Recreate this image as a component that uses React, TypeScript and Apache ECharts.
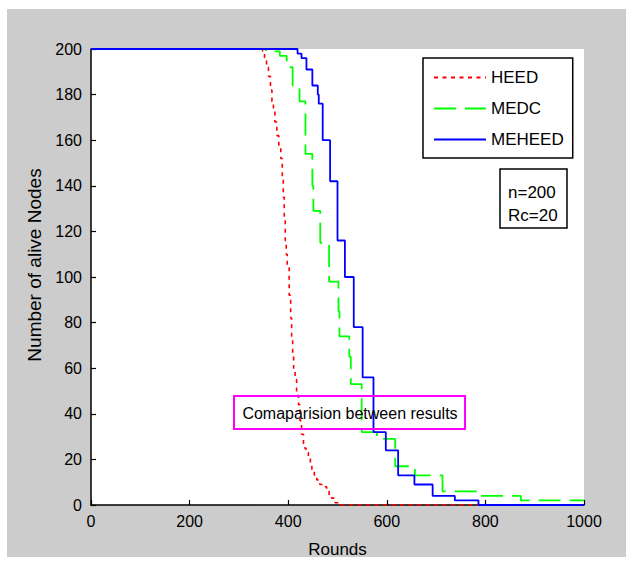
import React, { useEffect, useRef } from "react";
import * as echarts from "echarts";

const FONT = "Liberation Sans, Arial, Helvetica, sans-serif";

const xTicks = [0, 200, 400, 600, 800, 1000];
const yTicks = [0, 20, 40, 60, 80, 100, 120, 140, 160, 180, 200];

const heedRounds = [0, 348, 352, 356, 360, 364, 367, 370, 373, 377, 381, 385, 388, 390, 392, 394, 396, 398, 402, 405, 407, 409, 411, 414, 417, 421, 424, 427, 431, 436, 441, 445, 448, 453, 458, 464, 471, 478, 483, 488, 495, 502, 1000];
const heedAlive = [200, 199, 196, 192, 188, 182, 177, 173, 168, 162, 157, 152, 143, 135, 126, 116, 110, 104, 92, 82, 74, 66, 60, 55, 48, 44, 37, 31, 25, 23, 21, 18, 15, 13, 11, 9, 8, 6, 4, 3, 1, 0, 0];

const medcRounds = [0, 355, 383, 397, 409, 423, 435, 449, 451, 465, 483, 502, 504, 524, 527, 549, 580, 617, 657, 713, 790, 872, 1000];
const medcAlive = [200, 199, 197, 192, 184, 177, 154, 140, 129, 115, 98, 85, 74, 65, 53, 32, 29, 17, 13, 6, 4, 2, 2];

const meheedRounds = [0, 419, 427, 437, 449, 460, 462, 470, 485, 500, 515, 533, 551, 573, 598, 623, 656, 693, 738, 786, 1000];
const meheedAlive = [200, 198, 196, 191, 184, 180, 176, 160, 142, 116, 100, 78, 56, 32, 24, 13, 9, 4, 2, 0, 0];

const seriesNames = ["HEED", "MEDC", "MEHEED"];
const annotationText = "Comaparision between results";
const paramLines = ["n=200", "Rc=20"];

const pairs = (xs: number[], ys: number[]) => xs.map((x, i) => [x, ys[i]]);

export default function App() {
  const ref = useRef<HTMLDivElement>(null);
  useEffect(() => {
    if (!ref.current) return;
    const chart = echarts.init(ref.current, undefined, { renderer: "svg" });
    const axisCommon = {
      axisLine: { show: true, lineStyle: { color: "#000", width: 1.5 } },
      axisTick: { show: true, inside: true, length: 5, lineStyle: { color: "#000", width: 1.2 } },
      splitLine: { show: false },
    };
    chart.setOption({
      animation: false,
      backgroundColor: "transparent",
      grid: {
        left: 91,
        top: 49,
        width: 493,
        height: 456,
        show: true,
        backgroundColor: "#ffffff",
        borderWidth: 0,
        containLabel: false,
        outerBoundsMode: "none",
      },
      xAxis: {
        type: "value",
        min: xTicks[0],
        max: xTicks[xTicks.length - 1],
        interval: 200,
        ...axisCommon,
        axisLabel: {
          color: "#000",
          fontSize: 16,
          fontFamily: FONT,
          margin: 8,
          formatter: (v: number) => String(v),
        },
        name: "Rounds",
        nameLocation: "middle",
        nameGap: 36,
        nameTextStyle: { color: "#000", fontSize: 17, fontFamily: FONT },
      },
      yAxis: {
        type: "value",
        min: yTicks[0],
        max: yTicks[yTicks.length - 1],
        interval: 20,
        ...axisCommon,
        axisLabel: {
          color: "#000",
          fontSize: 16,
          fontFamily: FONT,
          margin: 9,
          formatter: (v: number) => String(v),
        },
        name: "Number of alive Nodes",
        nameLocation: "middle",
        nameGap: 40,
        nameTextStyle: { color: "#000", fontSize: 19, fontFamily: FONT, padding: [0, 0, 0, 24] },
      },
      legend: {
        data: seriesNames,
        orient: "vertical",
        left: 423,
        top: 58,
        itemWidth: 52,
        itemHeight: 16,
        itemGap: 14,
        padding: [11, 9, 10, 10],
        backgroundColor: "#ffffff",
        borderColor: "#000",
        borderWidth: 1.5,
        itemStyle: { opacity: 0 },
        textStyle: { color: "#000", fontSize: 17, fontFamily: FONT },
      },
      series: [
        {
          name: seriesNames[0],
          type: "line",
          step: "end",
          data: pairs(heedRounds, heedAlive),
          symbol: "none",
          showSymbol: false,
          clip: false,
          color: "#ff0000",
          lineStyle: { color: "#ff0000", width: 1.6, type: [4, 4.5] },
        },
        {
          name: seriesNames[1],
          type: "line",
          step: "end",
          data: pairs(medcRounds, medcAlive),
          symbol: "none",
          showSymbol: false,
          clip: false,
          color: "#00ff00",
          lineStyle: { color: "#00ff00", width: 1.8, type: [22, 9] },
        },
        {
          name: seriesNames[2],
          type: "line",
          step: "end",
          data: pairs(meheedRounds, meheedAlive),
          symbol: "none",
          showSymbol: false,
          clip: false,
          color: "#0000ff",
          lineStyle: { color: "#0000ff", width: 1.8, type: "solid" },
        },
      ],
      graphic: [
        {
          type: "rect",
          z: 100,
          shape: { x: 234, y: 396, width: 231, height: 33 },
          style: { fill: "none", stroke: "#ff00ff", lineWidth: 2 },
        },
        {
          type: "text",
          z: 100,
          x: 350,
          y: 413,
          style: {
            text: annotationText,
            fill: "#000",
            fontSize: 16,
            fontFamily: FONT,
            align: "center",
            verticalAlign: "middle",
            textAlign: "center",
            textVerticalAlign: "middle",
          },
        },
        {
          type: "rect",
          z: 100,
          shape: { x: 500, y: 169, width: 67, height: 59 },
          style: { fill: "#ffffff", stroke: "#000", lineWidth: 1.5 },
        },
        {
          type: "text",
          z: 101,
          x: 508,
          y: 192,
          style: {
            text: paramLines[0],
            fill: "#000",
            fontSize: 17,
            fontFamily: FONT,
            align: "left",
            verticalAlign: "middle",
            textAlign: "left",
            textVerticalAlign: "middle",
          },
        },
        {
          type: "text",
          z: 101,
          x: 508,
          y: 215,
          style: {
            text: paramLines[1],
            fill: "#000",
            fontSize: 17,
            fontFamily: FONT,
            align: "left",
            verticalAlign: "middle",
            textAlign: "left",
            textVerticalAlign: "middle",
          },
        },
      ],
    });
    return () => chart.dispose();
  }, []);

  return (
    <div style={{ position: "fixed", left: 0, top: 0, width: 632, height: 561, background: "#ffffff" }}>
      <div style={{ position: "absolute", left: 7, top: 9, width: 619, height: 548, background: "#cccccc" }} />
      <div ref={ref} style={{ position: "absolute", left: 0, top: 0, width: 632, height: 561 }} />
    </div>
  );
}
